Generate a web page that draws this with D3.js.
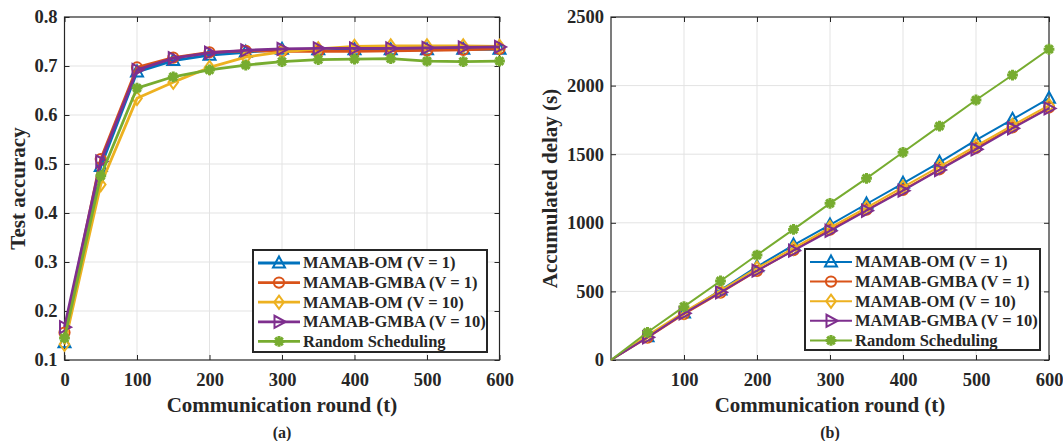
<!DOCTYPE html>
<html><head><meta charset="utf-8">
<script src="https://cdn.jsdelivr.net/npm/d3@7"></script>
<style>
body{margin:0;background:#fff}
text{font-family:"Liberation Serif","Times New Roman",serif;font-weight:bold;fill:#262626}
</style>
</head><body>
<svg id="c" width="1063" height="441"></svg>
<script>
// ---------- data ----------
const rounds = [0,50,100,150,200,250,300,350,400,450,500,550,600];
const seriesNames = ["MAMAB-OM (V = 1)","MAMAB-GMBA (V = 1)","MAMAB-OM (V = 10)","MAMAB-GMBA (V = 10)","Random Scheduling"];
const accOM1     = [0.135,0.495,0.688,0.711,0.722,0.728,0.734,0.733,0.733,0.733,0.733,0.734,0.734];
const accGMBA1   = [0.156,0.510,0.697,0.717,0.728,0.731,0.730,0.730,0.730,0.731,0.732,0.733,0.735];
const accOM10    = [0.132,0.458,0.634,0.667,0.697,0.718,0.729,0.735,0.740,0.741,0.741,0.741,0.740];
const accGMBA10  = [0.167,0.505,0.692,0.716,0.727,0.732,0.735,0.736,0.736,0.736,0.737,0.738,0.739];
const accRandom  = [0.145,0.476,0.655,0.678,0.692,0.702,0.709,0.713,0.714,0.715,0.710,0.709,0.710];
const delayOM1    = [0,170,342,510,680,838,984,1137,1288,1441,1603,1754,1907];
const delayGMBA1  = [0,163,335,490,650,800,950,1095,1240,1390,1545,1695,1840];
const delayOM10   = [0,180,350,505,670,815,965,1110,1260,1410,1560,1710,1855];
const delayGMBA10 = [0,165,340,493,651,797,942,1088,1234,1385,1536,1689,1834];
const delayRandom = [0,202,389,576,765,952,1142,1324,1514,1705,1895,2077,2265];
const accTicksY = [0.1,0.2,0.3,0.4,0.5,0.6,0.7,0.8];
const accTicksX = [0,100,200,300,400,500,600];
const delayTicksY = [0,500,1000,1500,2000,2500];
const delayTicksX = [100,200,300,400,500,600];

const colors = ["#0072BD","#D95319","#EDB120","#7E2F8E","#77AC30"];
const markers = ["tri","circle","diamond","right","star"];

const svg = d3.select("#c");

function markerPath(type, s){
  const r = s/2;
  switch(type){
    case "tri": return `M0,${-r*1.1}L${r},${r*0.75}L${-r},${r*0.75}Z`;
    case "right": return `M${r*1.1},0L${-r*0.75},${r}L${-r*0.75},${-r}Z`;
    case "diamond": return `M0,${-r*1.1}L${r*0.8},0L0,${r*1.1}L${-r*0.8},0Z`;
    case "circle": return d3.arc()({innerRadius:0,outerRadius:r*0.85,startAngle:0,endAngle:2*Math.PI});
    case "star": {
      const a = r*0.9, b = a*0.7071;
      return `M${-a},0L${a},0M0,${-a}L0,${a}M${-b},${-b}L${b},${b}M${-b},${b}L${b},${-b}`;
    }
  }
}

function drawMarker(g, type, color, x, y, s, sw){
  g.append("path").attr("d", markerPath(type, s))
    .attr("transform", `translate(${x},${y})`)
    .attr("stroke", color).attr("stroke-width", type==="star"? sw+1 : sw)
    .attr("fill", type==="star"? color : "none").attr("stroke-linejoin","miter");
  if (type==="star") {
    g.append("circle").attr("cx",x).attr("cy",y).attr("r",s*0.22).attr("fill",color);
  }
}

function panel(opt){
  const g = svg.append("g");
  const x = d3.scaleLinear().domain(opt.xDomain).range(opt.xRange);
  const y = d3.scaleLinear().domain(opt.yDomain).range(opt.yRange);
  const [x0,x1] = opt.xRange, [y0,y1] = [opt.yRange[1], opt.yRange[0]];
  // grid
  g.append("g").selectAll("line").data(opt.xTicks.filter(t=>x(t)>x0+1 && x(t)<x1-1)).join("line")
    .attr("x1",d=>x(d)).attr("x2",d=>x(d)).attr("y1",y0).attr("y2",y1)
    .attr("stroke","#e3e3e3").attr("stroke-width",1);
  g.append("g").selectAll("line").data(opt.yTicks.filter(t=>y(t)>y0+1 && y(t)<y1-1)).join("line")
    .attr("y1",d=>y(d)).attr("y2",d=>y(d)).attr("x1",x0).attr("x2",x1)
    .attr("stroke","#e3e3e3").attr("stroke-width",1);
  // axes
  const ax = g.append("g").attr("transform",`translate(0,${y1})`)
    .call(d3.axisBottom(x).tickValues(opt.xTicks).tickSize(-5).tickPadding(13).tickFormat(d3.format("d")));
  ax.selectAll("text").style("font-size","18.5px");
  g.append("g").attr("transform",`translate(0,${y0})`)
    .call(d3.axisTop(x).tickValues(opt.xTicks).tickSize(-5).tickFormat(""));
  const ay = g.append("g").attr("transform",`translate(${x0},0)`)
    .call(d3.axisLeft(y).tickValues(opt.yTicks).tickSize(-5).tickPadding(7).tickFormat(opt.yFormat));
  ay.selectAll("text").style("font-size","18.5px");
  g.append("g").attr("transform",`translate(${x1},0)`)
    .call(d3.axisRight(y).tickValues(opt.yTicks).tickSize(-5).tickFormat(""));
  g.selectAll(".domain").remove();
  g.selectAll(".tick line").attr("stroke","#262626");
  g.selectAll(".tick text").attr("fill","#262626");
  g.append("rect").attr("x",x0).attr("y",y0).attr("width",x1-x0).attr("height",y1-y0)
    .attr("fill","none").attr("stroke","#262626").attr("stroke-width",1.2);
  // lines
  const line = d3.line().x(d=>x(d[0])).y(d=>y(d[1]));
  opt.series.forEach((vals,i)=>{
    const pts = rounds.map((r,j)=>[r,vals[j]]);
    g.append("path").attr("d",line(pts)).attr("fill","none")
      .attr("stroke",colors[i]).attr("stroke-width",opt.lw).attr("stroke-linejoin","round");
    pts.forEach((p,j)=>{
      if (opt.skipFirstMarker && j===0) return;
      drawMarker(g, markers[i], colors[i], x(p[0]), y(p[1]), opt.ms, 2);
    });
  });
  // labels
  g.append("text").attr("x",(x0+x1)/2).attr("y",412).attr("text-anchor","middle")
    .style("font-size","21px").text("Communication round (t)");
  g.append("text").attr("transform",`translate(${opt.ylabX},${(y0+y1)/2}) rotate(-90)`)
    .attr("text-anchor","middle").style("font-size","21px").text(opt.yLabel);
  g.append("text").attr("x",(x0+x1)/2).attr("y",438).attr("text-anchor","middle")
    .style("font-size","16px").text(opt.caption);
  // legend
  const L = opt.legend;
  const lg = g.append("g");
  lg.append("rect").attr("x",L.x).attr("y",L.y).attr("width",L.w).attr("height",L.h)
    .attr("fill","#fff").attr("stroke","#262626").attr("stroke-width",2);
  seriesNames.forEach((n,i)=>{
    const yy = L.y + 13 + i*19.6;
    lg.append("line").attr("x1",L.x+5).attr("x2",L.x+47).attr("y1",yy).attr("y2",yy)
      .attr("stroke",colors[i]).attr("stroke-width",opt.lw);
    drawMarker(lg, markers[i], colors[i], L.x+26, yy, opt.ms, 2);
    lg.append("text").attr("x",L.x+50).attr("y",yy).attr("dy","0.33em")
      .style("font-size","16.5px").text(n);
  });
}

panel({
  xDomain:[0,600], xRange:[64.5,499.5], yDomain:[0.1,0.8], yRange:[360,17],
  xTicks:accTicksX, yTicks:accTicksY, yFormat:d3.format(".1f"),
  series:[accOM1,accGMBA1,accOM10,accGMBA10,accRandom],
  lw:2.8, ms:12, ylabX:25, yLabel:"Test accuracy", caption:"(a)",
  legend:{x:253,y:250,w:234,h:102}
});
panel({
  xDomain:[0,600], xRange:[611,1049], yDomain:[0,2500], yRange:[360,17],
  xTicks:delayTicksX, yTicks:delayTicksY, yFormat:d3.format("d"),
  series:[delayOM1,delayGMBA1,delayOM10,delayGMBA10,delayRandom],
  lw:2, ms:12, skipFirstMarker:true, ylabX:557, yLabel:"Accumulated delay (s)", caption:"(b)",
  legend:{x:805,y:249,w:235,h:101}
});
</script>
</body></html>
